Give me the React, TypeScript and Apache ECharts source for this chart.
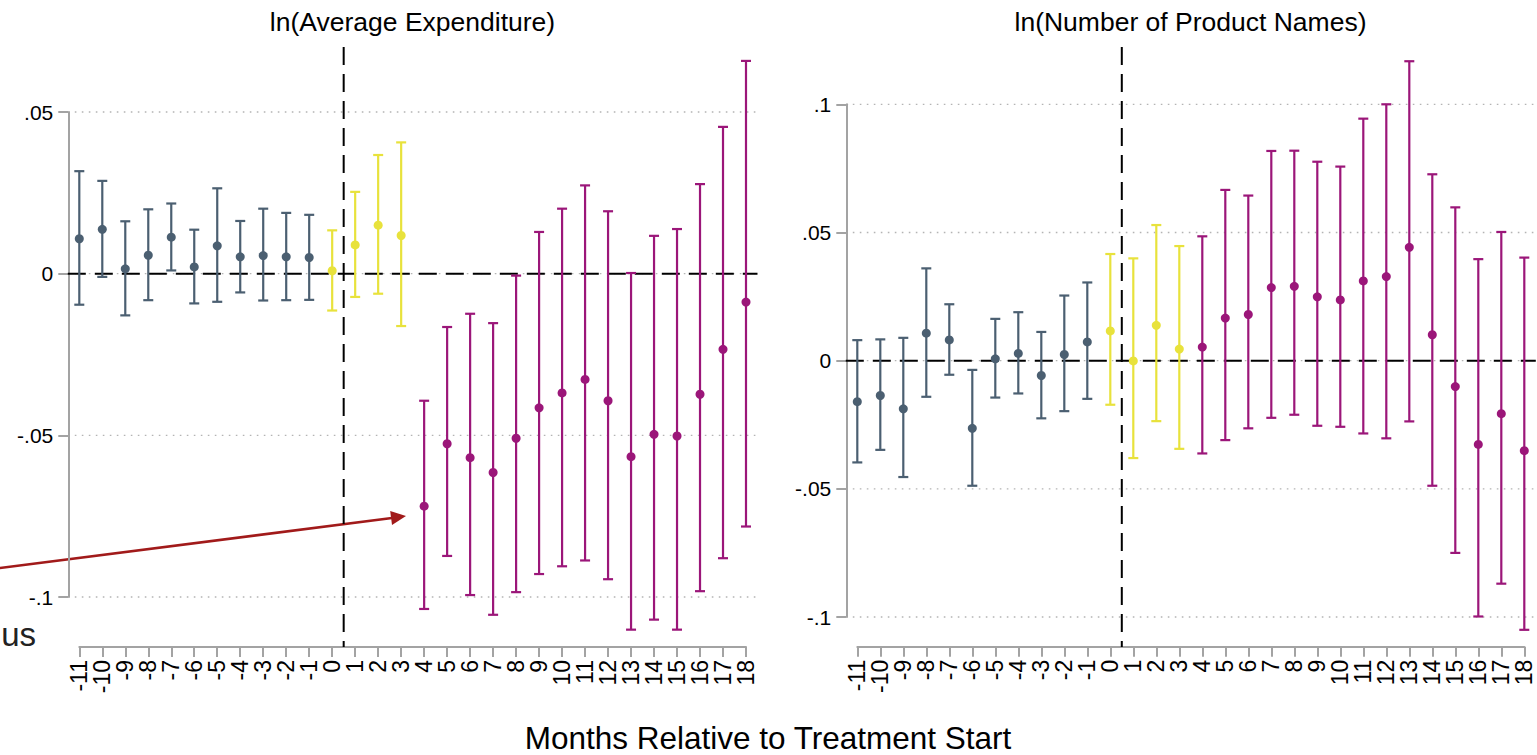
import React, { useEffect, useRef } from "react";
import * as echarts from "echarts";

// ---------- DATA ----------
const MONTHS = [-11, -10, -9, -8, -7, -6, -5, -4, -3, -2, -1, 0, 1, 2, 3, 4, 5, 6, 7, 8, 9, 10, 11, 12, 13, 14, 15, 16, 17, 18];

// ln(Average Expenditure)
const LEFT_EST = [0.0108, 0.0137, 0.0015, 0.0057, 0.0113, 0.0021, 0.0086, 0.0052, 0.0056, 0.0052, 0.005, 0.0009, 0.0089, 0.015, 0.0118, -0.0719, -0.0526, -0.0569, -0.0615, -0.0509, -0.0415, -0.0369, -0.0327, -0.0393, -0.0566, -0.0497, -0.0502, -0.0373, -0.0234, -0.0088];
const LEFT_LO = [-0.0096, -0.001, -0.0129, -0.0082, 0.001, -0.0092, -0.0087, -0.0058, -0.0083, -0.0082, -0.0081, -0.0114, -0.0072, -0.0062, -0.0162, -0.1037, -0.0873, -0.0994, -0.1055, -0.0985, -0.0929, -0.0905, -0.0887, -0.0945, -0.1101, -0.107, -0.1101, -0.0982, -0.088, -0.0782];
const LEFT_HI = [0.0317, 0.0287, 0.0162, 0.0199, 0.0217, 0.0136, 0.0264, 0.0163, 0.0201, 0.0188, 0.0182, 0.0134, 0.0253, 0.0367, 0.0406, -0.0393, -0.0165, -0.0124, -0.0153, -0.0006, 0.0129, 0.0201, 0.0273, 0.0193, 0.0002, 0.0117, 0.0138, 0.0277, 0.0454, 0.0658];
const LEFT_TICKS = [-0.1, -0.05, 0, 0.05];

// ln(Number of Product Names)
const RIGHT_EST = [-0.016, -0.0136, -0.0188, 0.0107, 0.0081, -0.0264, 0.0007, 0.0028, -0.0058, 0.0024, 0.0073, 0.0116, -0.0001, 0.0138, 0.0045, 0.0053, 0.0166, 0.018, 0.0285, 0.029, 0.0249, 0.0237, 0.0311, 0.0328, 0.0442, 0.0101, -0.0101, -0.0327, -0.0207, -0.0351];
const RIGHT_LO = [-0.0397, -0.0348, -0.0454, -0.0141, -0.0055, -0.0488, -0.0144, -0.0128, -0.0225, -0.0197, -0.0149, -0.0172, -0.038, -0.0236, -0.0344, -0.0362, -0.031, -0.0264, -0.0223, -0.0211, -0.0254, -0.0258, -0.0284, -0.0303, -0.0237, -0.0488, -0.075, -0.0998, -0.087, -0.105];
const RIGHT_HI = [0.008, 0.0083, 0.0089, 0.036, 0.022, -0.0036, 0.0163, 0.0189, 0.0112, 0.0254, 0.0305, 0.0416, 0.0399, 0.0529, 0.0447, 0.0485, 0.0666, 0.0644, 0.0818, 0.0819, 0.0776, 0.0757, 0.0944, 0.1, 0.1168, 0.0727, 0.0598, 0.0396, 0.0502, 0.0402];
const RIGHT_TICKS = [-0.1, -0.05, 0, 0.05, 0.1];

const TITLES = ["ln(Average Expenditure)", "ln(Number of Product Names)"];
const X_TITLE = "Months Relative to Treatment Start";
const TREAT_LINE_X = 0.5;

// ---------- STYLE ----------
const FONT = "'Liberation Sans', Arial, Helvetica, sans-serif";
const C_PRE = "#4b5f71";
const C_EARLY = "#e8e23c";
const C_POST = "#9b1679";
const AXIS_GRAY = "#a3a3a3";
const GRID_GRAY = "#b4b4b4";
const colorFor = (m: number) => (m < 0 ? C_PRE : m <= 3 ? C_EARLY : C_POST);
const fmtY = (v: number) => {
  if (Math.abs(v) < 1e-9) return "0";
  const s = String(+v.toFixed(3));
  return s.replace(/^(-?)0\./, "$1.");
};
const X_LO = -11.5;
const X_HI = 18.5;
const PLOT_TOP = 47;
const AXIS_Y = 647;

function buildPanel(idx: number, est: number[], lo: number[], hi: number[], ticks: number[]) {
  const series: any[] = [];
  // gridlines
  series.push({
    type: "custom",
    xAxisIndex: idx,
    yAxisIndex: idx,
    silent: true,
    z: 1,
    clip: false,
    data: ticks.map((t) => [t]),
    renderItem: (params: any, api: any) => {
      const v = api.value(0);
      const a = api.coord([X_LO, v]);
      const b = api.coord([X_HI, v]);
      const children: any[] = [
        {
          type: "line",
          shape: { x1: a[0] + 7, y1: a[1], x2: b[0], y2: b[1] },
          style: { stroke: GRID_GRAY, lineWidth: 1.3, lineDash: [1.6, 5.4] },
        },
      ];
      if (Math.abs(v) < 1e-9) {
        children.push({
          type: "line",
          shape: { x1: a[0], y1: a[1], x2: b[0], y2: b[1] },
          style: { stroke: "#000", lineWidth: 2, lineDash: [18, 9] },
        });
      }
      return { type: "group", children };
    },
  });
  // treatment vertical line
  series.push({
    type: "custom",
    xAxisIndex: idx,
    yAxisIndex: idx,
    silent: true,
    z: 2,
    clip: false,
    data: [[TREAT_LINE_X]],
    renderItem: (params: any, api: any) => {
      const p = api.coord([api.value(0), 0]);
      return {
        type: "line",
        shape: { x1: p[0], y1: PLOT_TOP, x2: p[0], y2: AXIS_Y },
        style: { stroke: "#000", lineWidth: 2, lineDash: [18, 9] },
      };
    },
  });
  // error bars
  series.push({
    type: "custom",
    xAxisIndex: idx,
    yAxisIndex: idx,
    z: 3,
    clip: false,
    data: MONTHS.map((m, i) => [m, lo[i], hi[i]]),
    renderItem: (params: any, api: any) => {
      const x = api.value(0);
      const pl = api.coord([x, api.value(1)]);
      const ph = api.coord([x, api.value(2)]);
      const st = { stroke: colorFor(x), lineWidth: 2.2 };
      const cap = 5;
      return {
        type: "group",
        children: [
          { type: "line", shape: { x1: ph[0], y1: ph[1], x2: pl[0], y2: pl[1] }, style: st },
          { type: "line", shape: { x1: ph[0] - cap, y1: ph[1], x2: ph[0] + cap, y2: ph[1] }, style: st },
          { type: "line", shape: { x1: pl[0] - cap, y1: pl[1], x2: pl[0] + cap, y2: pl[1] }, style: st },
        ],
      };
    },
  });
  // point estimates
  series.push({
    type: "scatter",
    xAxisIndex: idx,
    yAxisIndex: idx,
    z: 4,
    clip: false,
    symbolSize: 9,
    data: MONTHS.map((m, i) => [m, est[i]]),
    itemStyle: { color: (p: any) => colorFor(p.value[0]), opacity: 1 },
  });
  return series;
}

export default function App() {
  const ref = useRef<HTMLDivElement>(null);
  useEffect(() => {
    if (!ref.current) return;
    const chart = echarts.init(ref.current, undefined, { renderer: "svg" });
    const xAxisBase = (offset: number) => ({
      type: "value",
      min: -11,
      max: 18,
      interval: 1,
      position: "bottom",
      offset,
      axisLine: { show: true, onZero: false, lineStyle: { color: AXIS_GRAY, width: 2 } },
      axisTick: { show: true, length: 10, lineStyle: { color: AXIS_GRAY, width: 2 } },
      axisLabel: { rotate: 90, margin: 13, fontSize: 23, fontFamily: FONT, color: "#000", showMinLabel: true, showMaxLabel: true },
      splitLine: { show: false },
    });
    const yAxisBase = (min: number, max: number) => ({
      type: "value",
      min,
      max,
      interval: 0.05,
      position: "left",
      offset: 11,
      axisLine: { show: true, onZero: false, lineStyle: { color: AXIS_GRAY, width: 2 } },
      axisTick: { show: true, length: 10, lineStyle: { color: AXIS_GRAY, width: 2 } },
      axisLabel: { margin: 15, fontSize: 21, fontFamily: FONT, color: "#000", formatter: fmtY },
      splitLine: { show: false },
    });
    const option: any = {
      animation: false,
      backgroundColor: "#fff",
      grid: [
        { left: 79.3, top: 112, width: 666.7, height: 485 },
        { left: 857.3, top: 104.3, width: 667, height: 512.7 },
      ],
      xAxis: [
        { ...xAxisBase(50), gridIndex: 0 },
        { ...xAxisBase(29.7), gridIndex: 1 },
      ],
      yAxis: [
        { ...yAxisBase(-0.1, 0.05), gridIndex: 0 },
        { ...yAxisBase(-0.1, 0.1), gridIndex: 1 },
      ],
      series: [
        ...buildPanel(0, LEFT_EST, LEFT_LO, LEFT_HI, LEFT_TICKS),
        ...buildPanel(1, RIGHT_EST, RIGHT_LO, RIGHT_HI, RIGHT_TICKS),
      ],
      graphic: [
        {
          type: "text",
          x: 412.5,
          y: 22,
          style: { text: TITLES[0], fontSize: 26.5, fontFamily: FONT, fill: "#000", textAlign: "center", textVerticalAlign: "middle", align: "center", verticalAlign: "middle" },
        },
        {
          type: "text",
          x: 1190.5,
          y: 22,
          style: { text: TITLES[1], fontSize: 26.5, fontFamily: FONT, fill: "#000", textAlign: "center", textVerticalAlign: "middle", align: "center", verticalAlign: "middle" },
        },
        {
          type: "text",
          x: 768,
          y: 738,
          style: { text: X_TITLE, fontSize: 31.5, fontFamily: FONT, fill: "#000", textAlign: "center", textVerticalAlign: "middle", align: "center", verticalAlign: "middle" },
        },
        {
          type: "text",
          x: 36,
          y: 634,
          style: { text: "us", fontSize: 33, fontFamily: FONT, fill: "#222", textAlign: "right", textVerticalAlign: "middle", align: "right", verticalAlign: "middle" },
        },
        {
          type: "line",
          shape: { x1: -2, y1: 568.3, x2: 392, y2: 518 },
          style: { stroke: "#a11a1a", lineWidth: 2.6 },
        },
        {
          type: "polygon",
          shape: { points: [[406, 516], [392.0, 524.9], [390.2, 511.0]] },
          style: { fill: "#a11a1a" },
        },
      ],
    };
    chart.setOption(option);
    return () => chart.dispose();
  }, []);
  return <div ref={ref} style={{ position: "fixed", left: 0, top: 0, width: 1537, height: 755 }} />;
}
